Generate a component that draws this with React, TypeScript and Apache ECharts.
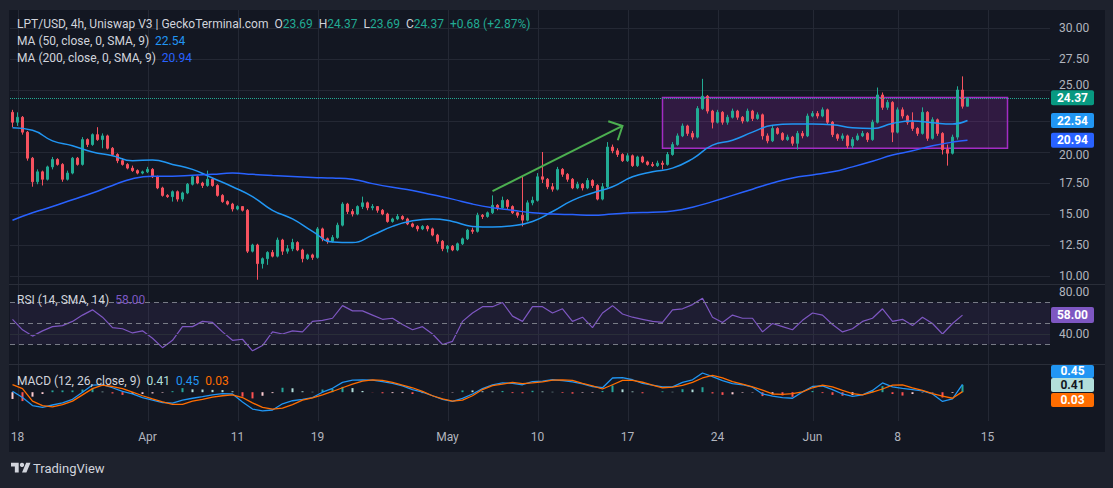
import React, { useEffect, useRef } from "react";
import * as echarts from "echarts";

const TV_LOGO = "M14 22H7V11H0V4h14v18zM28 22h-8l7.5-18h8L28 22z";
echarts.graphic.registerShape("tvlogo", echarts.graphic.extendPath(TV_LOGO, {}));

// [open, close, low, high]
const candles: number[][] = [
  [23.2, 22.4, 22.0, 23.4], [22.4, 22.8, 22.1, 23.2], [22.8, 21.6, 21.4, 22.9], [21.6, 19.5, 19.3, 21.7],
  [19.5, 17.6, 17.2, 19.6], [17.6, 18.4, 17.4, 18.6], [18.4, 17.8, 17.3, 18.5], [17.8, 18.8, 17.7, 18.9],
  [18.8, 19.4, 18.6, 19.6], [19.4, 19.0, 18.9, 19.5], [19.0, 17.8, 17.6, 19.1], [17.8, 18.3, 17.7, 18.5],
  [18.3, 19.5, 18.2, 19.6], [19.5, 19.0, 18.9, 19.6], [19.0, 21.0, 18.9, 21.2], [21.0, 20.6, 20.4, 21.1],
  [20.6, 21.4, 20.5, 21.5], [21.4, 21.0, 20.9, 22.0], [21.0, 21.3, 20.3, 21.5], [21.3, 20.3, 20.2, 21.4],
  [20.3, 19.8, 19.7, 20.4], [19.8, 19.3, 19.1, 19.9], [19.3, 19.0, 18.9, 19.5], [19.0, 18.7, 18.6, 19.1],
  [18.7, 18.5, 18.4, 18.9], [18.5, 18.3, 18.2, 18.6], [18.3, 18.4, 18.2, 18.5], [18.4, 18.6, 18.3, 18.8],
  [18.6, 18.0, 17.9, 18.7], [18.0, 17.1, 17.0, 18.1], [17.1, 16.5, 16.4, 17.2], [16.5, 16.4, 16.3, 16.6],
  [16.4, 16.8, 16.0, 16.9], [16.8, 16.2, 16.0, 16.9], [16.2, 16.7, 16.0, 16.8], [16.7, 17.4, 16.6, 17.5],
  [17.4, 18.0, 17.3, 18.1], [18.0, 17.5, 17.4, 18.1], [17.5, 17.3, 17.1, 17.6], [17.3, 17.8, 17.2, 18.5],
  [17.8, 17.3, 17.2, 17.9], [17.3, 16.5, 16.4, 17.4], [16.5, 16.0, 15.9, 16.6], [16.0, 15.8, 15.7, 16.1],
  [15.8, 15.4, 15.2, 15.9], [15.4, 15.6, 15.3, 15.7], [15.6, 15.3, 15.2, 15.6], [15.3, 12.0, 11.85, 15.4],
  [12.0, 12.5, 11.9, 12.6], [12.5, 11.0, 9.7, 12.6], [11.0, 11.4, 10.6, 11.5], [11.4, 11.9, 10.9, 12.0],
  [11.9, 11.6, 11.5, 12.1], [11.6, 12.9, 11.5, 13.1], [12.9, 12.0, 11.7, 13.0], [12.0, 12.2, 11.8, 12.5],
  [12.2, 12.7, 12.0, 13.0], [12.7, 12.1, 12.0, 12.8], [12.1, 11.4, 11.1, 12.2], [11.4, 11.7, 11.3, 11.8],
  [11.7, 11.5, 11.3, 11.8], [11.5, 13.8, 11.4, 13.95], [13.8, 13.0, 12.8, 13.9], [13.0, 12.8, 12.6, 13.1],
  [12.8, 13.1, 12.7, 13.3], [13.1, 14.1, 13.0, 14.3], [14.1, 15.8, 14.0, 15.95], [15.8, 15.2, 15.0, 15.9],
  [15.2, 15.0, 14.8, 15.4], [15.0, 15.6, 14.9, 15.7], [15.6, 15.9, 15.4, 16.4], [15.9, 15.5, 15.3, 16.0],
  [15.5, 15.6, 15.3, 15.8], [15.6, 15.3, 15.1, 15.6], [15.3, 15.0, 14.9, 15.4], [15.0, 14.4, 14.3, 15.1],
  [14.4, 14.6, 14.3, 14.7], [14.6, 14.8, 14.5, 15.0], [14.8, 14.6, 14.5, 14.9], [14.6, 14.2, 14.1, 14.7],
  [14.2, 14.0, 13.9, 14.3], [14.0, 13.8, 13.6, 14.1], [13.8, 14.0, 13.7, 14.1], [14.0, 13.8, 13.6, 14.1],
  [13.8, 13.3, 13.2, 13.9], [13.3, 12.8, 12.6, 13.4], [12.8, 12.2, 12.0, 12.9], [12.2, 12.4, 11.9, 12.5],
  [12.4, 12.1, 12.0, 12.5], [12.1, 12.6, 12.0, 12.7], [12.6, 13.0, 12.5, 13.1], [13.0, 13.7, 12.9, 13.8],
  [13.7, 13.6, 13.4, 13.9], [13.6, 14.9, 13.5, 15.1], [14.9, 14.8, 14.6, 15.0], [14.8, 15.1, 14.7, 15.2],
  [15.1, 15.7, 15.0, 16.5], [15.7, 15.5, 15.3, 15.8], [15.5, 16.1, 15.4, 16.4], [16.1, 15.6, 15.4, 16.2],
  [15.6, 15.1, 15.0, 15.7], [15.1, 14.9, 14.7, 15.2], [14.9, 14.5, 14.0, 18.0], [14.5, 15.9, 14.4, 16.1],
  [15.9, 16.1, 15.7, 16.4], [16.1, 18.0, 16.0, 18.3], [18.0, 17.8, 17.5, 20.0], [17.8, 17.2, 17.0, 17.9],
  [17.2, 17.0, 16.8, 17.5], [17.0, 18.6, 16.9, 18.8], [18.6, 18.2, 18.0, 18.7], [18.2, 17.8, 17.6, 18.3],
  [17.8, 17.1, 17.0, 17.9], [17.1, 17.4, 17.0, 17.6], [17.4, 17.1, 16.9, 17.5], [17.1, 17.7, 17.0, 17.9],
  [17.7, 17.3, 17.1, 17.8], [17.3, 16.2, 16.1, 17.4], [16.2, 17.2, 16.1, 17.5], [17.2, 20.4, 17.1, 20.8],
  [20.4, 20.1, 19.9, 20.6], [20.1, 19.8, 19.6, 20.3], [19.8, 19.3, 19.2, 19.9], [19.3, 19.7, 19.2, 19.9],
  [19.7, 18.9, 18.8, 19.8], [18.9, 19.6, 18.8, 19.7], [19.6, 19.2, 19.1, 19.7], [19.2, 19.0, 18.9, 19.3],
  [19.0, 18.9, 18.8, 19.2], [18.9, 19.1, 18.8, 19.3], [19.1, 19.0, 18.6, 19.3], [19.0, 19.8, 18.9, 20.0],
  [19.8, 20.6, 19.7, 20.8], [20.6, 21.3, 20.5, 21.5], [21.3, 22.1, 21.2, 22.3], [22.1, 21.5, 21.3, 22.2],
  [21.5, 21.2, 21.0, 21.7], [21.2, 23.5, 21.1, 23.7], [23.5, 24.5, 23.4, 25.9], [24.5, 23.3, 23.1, 24.6],
  [23.3, 22.4, 21.9, 23.4], [22.4, 23.2, 22.3, 23.4], [23.2, 22.4, 22.2, 23.3], [22.4, 22.8, 22.2, 23.0],
  [22.8, 23.3, 22.7, 23.5], [23.3, 22.8, 22.6, 23.4], [22.8, 22.5, 22.3, 22.9], [22.5, 23.3, 22.4, 23.5],
  [23.3, 22.7, 22.5, 23.4], [22.7, 23.0, 22.6, 23.2], [23.0, 21.3, 21.0, 23.1], [21.3, 20.9, 20.7, 21.5],
  [20.9, 21.9, 20.8, 22.1], [21.9, 21.5, 21.4, 22.0], [21.5, 21.0, 20.9, 21.6], [21.0, 21.2, 20.9, 21.4],
  [21.2, 20.7, 20.5, 21.3], [20.7, 21.5, 20.2, 21.7], [21.5, 21.3, 21.1, 21.7], [21.3, 22.9, 21.2, 23.1],
  [22.9, 23.1, 22.8, 23.3], [23.1, 22.9, 22.7, 23.3], [22.9, 23.4, 22.8, 23.6], [23.4, 22.4, 22.2, 23.5],
  [22.4, 21.4, 21.2, 22.5], [21.4, 21.1, 20.9, 21.5], [21.1, 21.3, 20.9, 21.5], [21.3, 20.5, 20.3, 21.4],
  [20.5, 21.0, 20.3, 21.2], [21.0, 21.3, 20.9, 21.5], [21.3, 21.5, 21.2, 21.7], [21.5, 21.0, 20.8, 21.6],
  [21.0, 22.4, 20.9, 22.6], [22.4, 24.6, 22.3, 25.2], [24.6, 23.6, 23.4, 24.8], [23.6, 24.0, 23.4, 24.2],
  [24.0, 21.6, 20.8, 24.1], [21.6, 23.4, 21.5, 23.6], [23.4, 22.9, 22.7, 23.6], [22.9, 22.4, 22.2, 23.0],
  [22.4, 21.9, 21.7, 23.2], [21.9, 21.5, 21.3, 22.0], [21.5, 23.2, 21.4, 23.6], [23.2, 21.1, 20.9, 23.3],
  [21.1, 22.6, 21.0, 22.8], [22.6, 21.5, 21.3, 22.7], [21.5, 20.2, 19.8, 21.6], [20.2, 19.9, 18.9, 20.6],
  [19.9, 21.2, 19.8, 21.4], [21.2, 25.0, 21.0, 25.3], [25.0, 23.69, 23.5, 26.1], [23.69, 24.37, 23.69, 24.37],
];

// moving averages, sampled every 4 candles, last value = last candle
const ma50 = [21.95, 21.75, 20.9, 20.5, 20.0, 19.7, 19.3, 19.35, 19.0, 18.6, 17.9, 17.2, 16.4, 15.3, 14.6, 13.6,
  12.75, 12.7, 13.3, 14.0, 14.45, 14.6, 14.4, 14.0, 13.95, 14.05, 14.4, 15.2, 16.1, 16.7, 17.2, 18.0, 18.4, 18.7,
  19.45, 20.55, 20.95, 21.6, 22.15, 22.25, 22.25, 22.2, 21.95, 21.9, 22.3, 22.5, 22.35, 22.25, 22.54];
const ma200 = [14.5, 15.1, 15.6, 16.15, 16.7, 17.3, 17.85, 18.05, 18.05, 18.12, 18.2, 18.3, 18.2, 18.1, 18.02, 17.95,
  17.9, 17.8, 17.45, 17.15, 16.9, 16.55, 16.2, 15.8, 15.5, 15.3, 15.1, 15.0, 14.95, 14.9, 15.0, 15.1, 15.15, 15.25,
  15.55, 16.0, 16.5, 17.0, 17.5, 17.9, 18.15, 18.4, 18.8, 19.25, 19.75, 20.1, 20.5, 20.8, 20.94];

// indicators, sampled every 2 candles
const rsi = [54, 44, 38, 43, 47, 48, 52, 58, 63, 56, 46, 45, 41, 43, 36, 27, 34, 47, 47, 52,
  51, 42, 34, 35, 24, 29, 42, 40, 43, 42, 52, 53, 55, 67, 62, 62, 58, 54, 55, 49,
  44, 47, 40, 30, 33, 52, 60, 66, 66, 70, 57, 52, 66, 66, 60, 64, 52, 56, 46, 60,
  67, 59, 56, 54, 52, 51, 63, 64, 68, 74, 56, 51, 58, 55, 55, 42, 50, 47, 44, 53,
  60, 58, 49, 42, 45, 52, 55, 64, 52, 54, 48, 56, 50, 40, 50, 58];
const macdLine = [0.05, -0.3, -0.75, -0.85, -0.72, -0.6, -0.4, 0.0, 0.4, 0.43,
  0.25, 0.05, -0.1, -0.3, -0.45, -0.58, -0.62, -0.45, -0.34, -0.25,
  -0.15, -0.08, -0.1, -0.55, -0.95, -1.05, -1.0, -0.65, -0.48, -0.4,
  -0.3, 0.0, 0.22, 0.55, 0.68, 0.69, 0.68, 0.6, 0.5, 0.35,
  0.15, 0.0, -0.2, -0.4, -0.52, -0.35, -0.1, 0.2, 0.41, 0.52,
  0.5, 0.42, 0.6, 0.62, 0.7, 0.65, 0.58, 0.47, 0.32, 0.25,
  0.8, 0.82, 0.7, 0.5, 0.4, 0.3, 0.3, 0.55, 0.7, 1.08,
  0.88, 0.65, 0.48, 0.42, 0.28, -0.1, -0.22, -0.3, -0.34, 0.02,
  0.32, 0.35, 0.15, -0.1, -0.24, -0.15, 0.1, 0.52, 0.3, 0.22,
  0.15, 0.08, -0.1, -0.52, -0.38, 0.446];
const signalLine = [0.43, 0.2, -0.5, -0.75, -0.82, -0.7, -0.5, -0.15, 0.2, 0.4,
  0.32, 0.2, 0.0, -0.2, -0.38, -0.55, -0.68, -0.68, -0.5, -0.4,
  -0.28, -0.2, -0.15, -0.3, -0.6, -0.85, -0.95, -0.9, -0.7, -0.45,
  -0.32, -0.15, 0.04, 0.25, 0.45, 0.62, 0.69, 0.66, 0.55, 0.4,
  0.25, 0.05, -0.2, -0.38, -0.5, -0.45, -0.2, 0.15, 0.37, 0.45,
  0.55, 0.48, 0.52, 0.58, 0.68, 0.69, 0.66, 0.5, 0.35, 0.18,
  0.42, 0.66, 0.66, 0.56, 0.4, 0.25, 0.28, 0.38, 0.55, 0.8,
  0.95, 0.8, 0.6, 0.45, 0.3, 0.12, -0.1, -0.12, -0.08, 0.02,
  0.25, 0.4, 0.3, 0.1, -0.08, -0.15, 0.0, 0.18, 0.4, 0.41,
  0.25, 0.1, -0.08, -0.22, -0.34, 0.034];

const tickLabels = ["18", "Apr", "11", "19", "May", "10", "17", "24", "Jun", "8", "15"];
const tickIndex = [1, 27, 45, 61, 87, 105, 123, 141, 160, 177, 195];

// annotations (price domain)
const boxRange = { from: 130, to: 199, top: 24.4, bottom: 20.3 };
const arrowFrom = [96, 16.85];
const arrowTo = [122, 22.1];

const FONT = "Roboto, 'Noto Sans', sans-serif";
const SLOTS = 208;
const PX_PER_UNIT = 12.4;

export default function App() {
  const ref = useRef<HTMLDivElement>(null);
  useEffect(() => {
    document.body.style.margin = "0";
    const chart = echarts.init(ref.current!, null, { renderer: "svg" });
    const cats = Array.from({ length: SLOTS }, (_, i) => String(i));
    const labelOf = new Map<number, string>(tickIndex.map((t, k) => [t, tickLabels[k]]));
    const last = candles[candles.length - 1];
    const lastIdx = candles.length - 1;
    const maIdx = (k: number, n: number) => (k === n - 1 ? lastIdx : k * 4);
    const indIdx = (k: number) => k * 2;

    const hist = macdLine.map((m, k) => m - signalLine[k]);
    const histData = hist.map((h, k) => {
      const prev = k > 0 ? hist[k - 1] : h;
      const color = h >= 0 ? (h >= prev ? "#26a69a" : "#b2dfdb") : (h < prev ? "#ff5252" : "#ffcdd2");
      return { value: [indIdx(k), h], itemStyle: { color } };
    });

    const xAxisBase = (gi: number, showLabel: boolean) => ({
      type: "category",
      gridIndex: gi,
      data: cats,
      boundaryGap: true,
      axisLine: { show: false },
      axisTick: { show: false },
      splitLine: { show: false },
      axisLabel: showLabel
        ? {
            show: true,
            interval: (i: number) => labelOf.has(i),
            formatter: (_v: string, i: number) => labelOf.get(i) ?? "",
            color: "#b2b5be",
            fontSize: 12,
            fontFamily: FONT,
            margin: 10,
          }
        : { show: false },
    });

    const priceMin = 7.5;
    const priceHeight = 307;
    const priceMax = priceMin + priceHeight / PX_PER_UNIT;
    const lastMa50 = ma50[ma50.length - 1];
    const lastMa200 = ma200[ma200.length - 1];
    const yOf = (v: number) => (priceMax - v) * PX_PER_UNIT;
    const priceLabel = (v: number) => {
      const s = v.toFixed(2);
      const y = yOf(v);
      if (Math.abs(y - yOf(lastMa50)) < 8) return "";
      if (Math.abs(y - yOf(last[1])) < 14 && y < yOf(last[1])) return `{up|${s}}`;
      if (Math.abs(y - yOf(lastMa200)) < 14 && y > yOf(lastMa200)) return `{dn|${s}}`;
      return s;
    };
    const axisTxt = { color: "#b2b5be", fontSize: 12, fontFamily: FONT };

    const option: any = {
      animation: false,
      backgroundColor: "#1e222d",
      grid: [
        { left: 10, right: 63, top: 0, height: priceHeight },
        { left: 10, right: 63, top: 292, height: 63 },
        { left: 10, right: 63, top: 365, height: 56 },
      ],
      xAxis: [xAxisBase(0, false), xAxisBase(1, false), xAxisBase(2, true)],
      yAxis: [
        {
          type: "value", gridIndex: 0, position: "right", min: priceMin, max: priceMax, interval: 2.5,
          axisLine: { show: false }, axisTick: { show: false },
          axisLabel: { ...axisTxt, margin: 9, showMinLabel: false, showMaxLabel: false, formatter: priceLabel,
            rich: { up: { ...axisTxt, padding: [0, 0, 11, 0] }, dn: { ...axisTxt, padding: [6, 0, 0, 0] } } },
          splitLine: { show: true, showMinLine: false, showMaxLine: false, lineStyle: { color: "#242834", width: 1 } },
        },
        {
          type: "value", gridIndex: 1, position: "right", min: 20, max: 80, interval: 20,
          axisLine: { show: false }, axisTick: { show: false },
          axisLabel: { ...axisTxt, margin: 9, formatter: (v: number) => (v === 80 || v === 40 ? v.toFixed(2) : "") },
          splitLine: { show: false },
        },
        {
          type: "value", gridIndex: 2, position: "right", min: -1.62, max: 1.53,
          axisLine: { show: false }, axisTick: { show: false }, axisLabel: { show: false }, splitLine: { show: false },
        },
      ],
      series: [
        {
          type: "candlestick", xAxisIndex: 0, yAxisIndex: 0, data: candles, barWidth: 2.4,
          itemStyle: { color: "#22ab94", color0: "#f7525f", borderColor: "#22ab94", borderColor0: "#f7525f", borderWidth: 1 },
          markArea: {
            silent: true,
            itemStyle: { color: "rgba(156,39,176,0.22)", borderColor: "#a32cc4", borderWidth: 1.5 },
            data: [[{ xAxis: boxRange.from, yAxis: boxRange.top }, { xAxis: boxRange.to, yAxis: boxRange.bottom }]],
          },
          markLine: {
            silent: true, symbol: "none", label: { show: false },
            lineStyle: { color: "#22ab94", type: "dotted", width: 1 },
            data: [{ yAxis: last[1] }],
          },
          z: 3,
        },
        {
          type: "line", xAxisIndex: 0, yAxisIndex: 0, symbol: "none", smooth: true,
          data: ma50.map((v, k) => [maIdx(k, ma50.length), v]),
          lineStyle: { color: "#2196f3", width: 1.5 }, z: 4,
        },
        {
          type: "line", xAxisIndex: 0, yAxisIndex: 0, symbol: "none", smooth: true,
          data: ma200.map((v, k) => [maIdx(k, ma200.length), v]),
          lineStyle: { color: "#2962ff", width: 1.5 }, z: 4,
        },
        {
          type: "line", xAxisIndex: 1, yAxisIndex: 1, symbol: "none",
          data: rsi.map((v, k) => [indIdx(k), v]),
          lineStyle: { color: "#7e57c2", width: 1.2 },
          markArea: { silent: true, itemStyle: { color: "rgba(126,87,194,0.1)" }, data: [[{ yAxis: 30 }, { yAxis: 70 }]] },
          markLine: {
            silent: true, symbol: "none", label: { show: false },
            lineStyle: { color: "#787b86", type: [5, 4], width: 1 },
            data: [
              { yAxis: 70 }, { yAxis: 50 }, { yAxis: 30 },
              { yAxis: 40, lineStyle: { color: "#2a2e39", type: "solid" } },
            ],
          },
        },
        { type: "bar", xAxisIndex: 2, yAxisIndex: 2, data: histData, barWidth: 2 },
        {
          type: "line", xAxisIndex: 2, yAxisIndex: 2, symbol: "none",
          data: macdLine.map((v, k) => [indIdx(k), v]), lineStyle: { color: "#2196f3", width: 1.3 }, z: 4,
        },
        {
          type: "line", xAxisIndex: 2, yAxisIndex: 2, symbol: "none",
          data: signalLine.map((v, k) => [indIdx(k), v]), lineStyle: { color: "#ff6d00", width: 1.3 }, z: 4,
        },
      ],
    };
    chart.setOption(option);

    const px = (g: number, i: number, v: number) => chart.convertToPixel({ gridIndex: g } as any, [i, v]) as number[];
    const G: any[] = [];
    G.push({ type: "rect", z: -10, silent: true, shape: { x: 9, y: 10, width: 1096, height: 442 }, style: { fill: "#131722" } });
    [284.5, 364.5].forEach((y) =>
      G.push({ type: "line", z: 1, silent: true, shape: { x1: 9, y1: y, x2: 1105, y2: y }, style: { stroke: "#2a2e39", lineWidth: 1 } })
    );
    tickIndex.forEach((t) => {
      const x = Math.round(px(2, t, 0)[0]) + 0.5;
      G.push({ type: "line", z: -5, silent: true, shape: { x1: x, y1: 10, x2: x, y2: 421 }, style: { stroke: "#242834", lineWidth: 1 } });
    });

    const prevClose = candles[candles.length - 2][1];
    const chg = last[1] - prevClose;
    const pct = (chg / prevClose) * 100;
    const lab = { fill: "#d1d4dc", fontSize: 12, fontFamily: FONT };
    const txt = (x: number, y: number, text: string, rich: any) =>
      G.push({ type: "text", z: 100, silent: true, x, y, style: { text, rich, font: `12px ${FONT}`, fill: "#d1d4dc", verticalAlign: "middle", align: "left" } });
    txt(17, 24,
      `{l|LPT/USD, 4h, Uniswap V3 | GeckoTerminal.com}  {l|O}{v|${last[0].toFixed(2)}}  {l|H}{v|${last[3].toFixed(2)}}  {l|L}{v|${last[2].toFixed(2)}}  {l|C}{v|${last[1].toFixed(2)}}  {v|${chg >= 0 ? "+" : ""}${chg.toFixed(2)} (${pct >= 0 ? "+" : ""}${pct.toFixed(2)}%)}`,
      { l: lab, v: { ...lab, fill: "#22ab94" } });
    txt(17, 41, `{l|MA (50, close, 0, SMA, 9)}  {v|${lastMa50.toFixed(2)}}`, { l: lab, v: { ...lab, fill: "#2196f3" } });
    txt(17, 58, `{l|MA (200, close, 0, SMA, 9)}  {v|${lastMa200.toFixed(2)}}`, { l: lab, v: { ...lab, fill: "#2962ff" } });
    txt(17, 300, `{l|RSI (14, SMA, 14)}  {v|${rsi[rsi.length - 1].toFixed(2)}}`, { l: lab, v: { ...lab, fill: "#7e57c2" } });
    const hLast = hist[hist.length - 1];
    const mLast = macdLine[macdLine.length - 1];
    const sLast = signalLine[signalLine.length - 1];
    txt(17, 381, `{l|MACD (12, 26, close, 9)}  {h|${hLast.toFixed(2)}}  {m|${mLast.toFixed(2)}}  {s|${sLast.toFixed(2)}}`,
      { l: lab, h: { ...lab, fill: "#b2dfdb" }, m: { ...lab, fill: "#2196f3" }, s: { ...lab, fill: "#ff6d00" } });

    const badge = (yc: number, h: number, text: string, bg: string, fg: string) => {
      G.push({ type: "rect", z: 110, silent: true, shape: { x: 1051, y: yc - h / 2, width: 43, height: h, r: 2 }, style: { fill: bg } });
      G.push({ type: "text", z: 111, silent: true, x: 1072.5, y: yc,
        style: { text, fill: fg, font: `bold 12px ${FONT}`, align: "center", verticalAlign: "middle" } });
    };
    badge(px(0, lastIdx, last[1])[1], 15, last[1].toFixed(2), "#089981", "#ffffff");
    badge(px(0, lastIdx, lastMa50)[1], 15, lastMa50.toFixed(2), "#2196f3", "#ffffff");
    badge(px(0, lastIdx, lastMa200)[1], 15, lastMa200.toFixed(2), "#2962ff", "#ffffff");
    badge(px(1, lastIdx, rsi[rsi.length - 1])[1], 16, rsi[rsi.length - 1].toFixed(2), "#7e57c2", "#ffffff");
    const hy = px(2, lastIdx, hLast)[1];
    badge(hy, 14, hLast.toFixed(2), "#b2dfdb", "#131722");
    const topY = 365;
    const mBottom = hy - 7;
    G.push({ type: "rect", z: 110, silent: true, shape: { x: 1051, y: topY, width: 43, height: mBottom - topY, r: 2 }, style: { fill: "#2196f3" } });
    G.push({ type: "text", z: 111, silent: true, x: 1072.5, y: mBottom - 6.5,
      style: { text: mLast.toFixed(2), fill: "#ffffff", font: `bold 12px ${FONT}`, align: "center", verticalAlign: "middle" } });
    badge(hy + 15, 14, sLast.toFixed(2), "#ff6d00", "#ffffff");

    // green arrow
    const a0 = px(0, arrowFrom[0], arrowFrom[1]);
    const a1 = px(0, arrowTo[0], arrowTo[1]);
    const ang = Math.atan2(a0[1] - a1[1], a0[0] - a1[0]);
    const L = 15;
    const w1 = [a1[0] + L * Math.cos(ang + Math.PI / 4), a1[1] + L * Math.sin(ang + Math.PI / 4)];
    const w2 = [a1[0] + L * Math.cos(ang - Math.PI / 4), a1[1] + L * Math.sin(ang - Math.PI / 4)];
    G.push({ type: "line", z: 50, silent: true, shape: { x1: a0[0], y1: a0[1], x2: a1[0], y2: a1[1] }, style: { stroke: "#4caf50", lineWidth: 2 } });
    G.push({ type: "polyline", z: 50, silent: true, shape: { points: [w1, a1, w2] }, style: { stroke: "#4caf50", lineWidth: 2, fill: null, lineJoin: "miter" } });

    // TradingView logo
    G.push({ type: "tvlogo", z: 100, silent: true, x: 11, y: 460.5, scaleX: 0.55, scaleY: 0.55, style: { fill: "#d1d4dc" } });
    G.push({ type: "circle", z: 100, silent: true, shape: { cx: 11 + 20 * 0.55, cy: 460.5 + 8 * 0.55, r: 4 * 0.55 }, style: { fill: "#d1d4dc" } });
    G.push({ type: "text", z: 100, silent: true, x: 33, y: 468,
      style: { text: "TradingView", fill: "#d1d4dc", font: `13px ${FONT}`, verticalAlign: "middle", align: "left" } });

    chart.setOption({ graphic: G });
    return () => chart.dispose();
  }, []);
  return <div ref={ref} style={{ width: 1113, height: 488 }} />;
}
